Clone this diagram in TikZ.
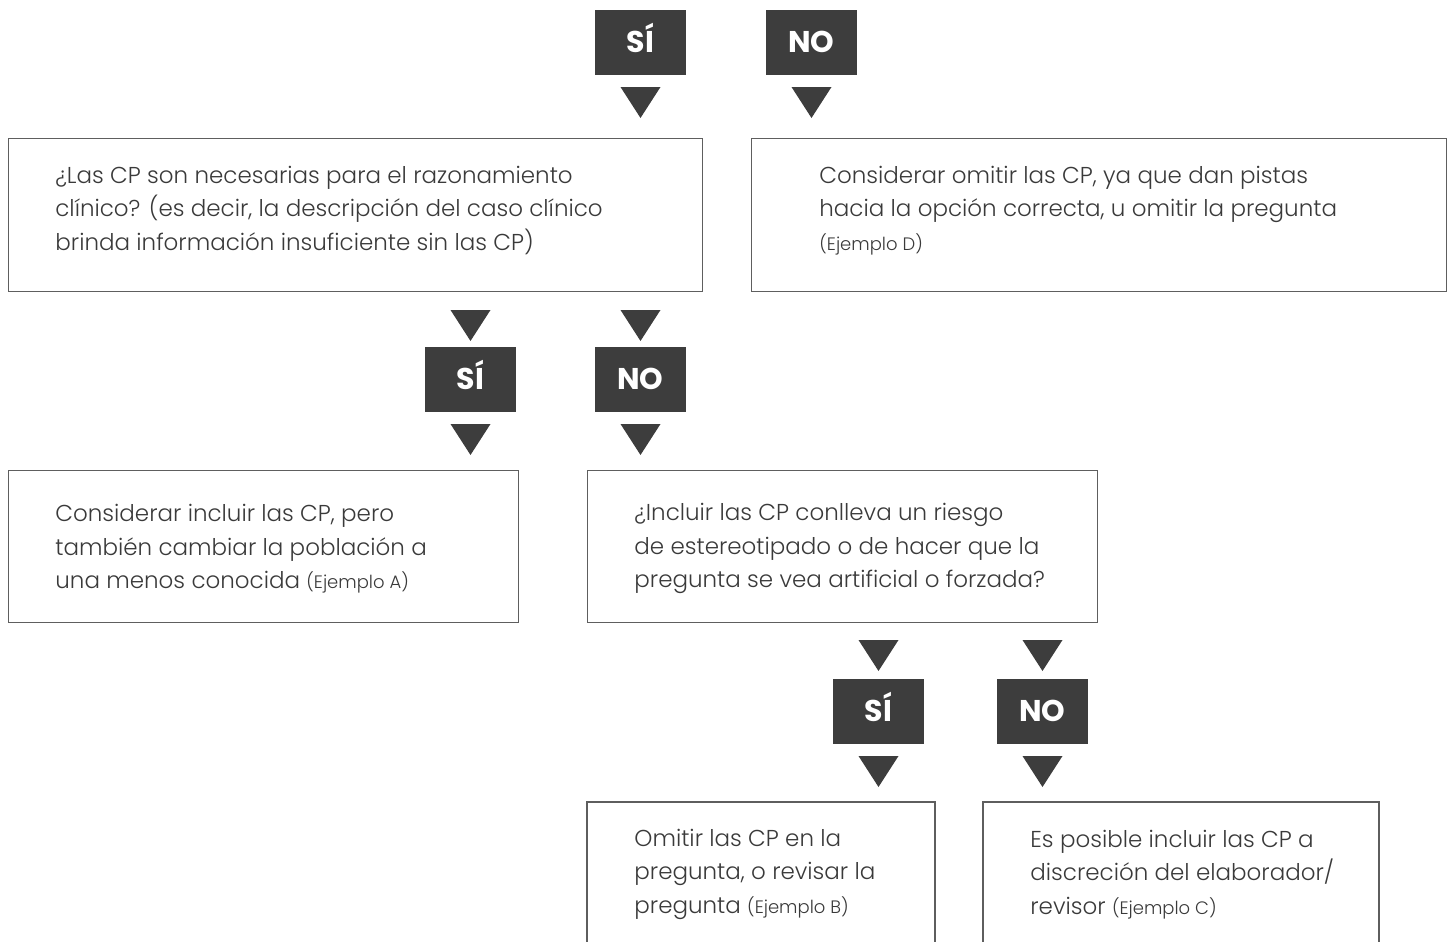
\documentclass[tikz,border=0pt]{standalone}
\usepackage{fontspec}
\IfFontExistsTF{Poppins Light}
  {\setmainfont{Poppins Light}[BoldFont={Poppins Bold}]}
  {\setmainfont{Poppins}}
\usetikzlibrary{positioning}
\definecolor{ink}{HTML}{3D3D3D}
\definecolor{textgray}{HTML}{3A3A3A}
\definecolor{framegray}{HTML}{5E5E5E}
% a filled triangle pointing down, given its centre x and its top y (in pixels)
\def\downtri(#1,#2){\fill[ink] ({#1-20},#2) -- ({#1+20},#2) -- (#1,{#2+31}) -- cycle;}
\newcommand{\ejemplo}[1]{{\fontsize{9}{10}\selectfont(Ejemplo #1)}}

\tikzset{
  answer/.style={fill=ink, text=white, font=\bfseries\fontsize{15}{18}\selectfont,
    minimum width=45.5pt, minimum height=32.5pt, inner sep=0pt,
    text height=10.5pt, text depth=0pt},
  frame/.style={draw=framegray, line width=0.7pt, anchor=north west, inner sep=0pt},
  body/.style={text=textgray, font=\fontsize{11.5}{16.75}\selectfont, align=left,
    inner sep=0pt, anchor=west, yshift=-1pt},
}

\begin{document}
\begin{tikzpicture}[x=0.5pt, y=-0.5pt]
  \useasboundingbox (0,0) rectangle (1448,942);

  % The first pair of answers, at the top, pointing into the first two boxes
  \node[answer] (si1) at (640.5,42.5) {SÍ};
  \node[answer] (no1) at (811.5,42.5) {NO};
  \downtri(640.5,87)
  \downtri(811.5,87)

  % The first question and the box reached by its NO
  \node[frame, minimum width=347pt, minimum height=76.5pt] (q1) at (8,138) {};
  \node[body, right=23.5pt of q1.west, yshift=3.5pt] (q1t) {¿Las CP son necesarias para el razonamiento\\
    clínico? (es decir, la descripción del caso clínico\\
    brinda información insuficiente sin las CP)};
  \node[frame, minimum width=347.5pt, minimum height=76.5pt] (d) at (751,138) {};
  \node[body, right=34pt of d.west, yshift=3.5pt] (dt) {Considerar omitir las CP, ya que dan pistas\\
    hacia la opción correcta, u omitir la pregunta\\
    \ejemplo{D}};

  % Answers to the first question
  \downtri(470.5,310)
  \downtri(640.5,310)
  \node[answer] (si2) at (470.5,379) {SÍ};
  \node[answer] (no2) at (640.5,379) {NO};
  \downtri(470.5,424)
  \downtri(640.5,424)

  % Box reached by SÍ, and the second question reached by NO
  \node[frame, minimum width=255pt, minimum height=76pt] (a) at (8,470) {};
  \node[body, right=23.5pt of a.west] (at) {Considerar incluir las CP, pero\\
    también cambiar la población a\\
    una menos conocida \ejemplo{A}};
  \node[frame, minimum width=255pt, minimum height=76pt] (q2) at (587,470) {};
  \node[body, right=23.5pt of q2.west] (q2t) {¿Incluir las CP conlleva un riesgo\\
    de estereotipado o de hacer que la\\
    pregunta se vea artificial o forzada?};

  % Answers to the second question
  \downtri(878.5,640)
  \downtri(1042.5,640)
  \node[answer] (si3) at (878.5,711) {SÍ};
  \node[answer] (no3) at (1042.5,711) {NO};
  \downtri(878.5,756)
  \downtri(1042.5,756)

  % The two last boxes run off the bottom of the page, so they have no bottom line
  \node[anchor=north west, minimum width=173.5pt, minimum height=70pt, inner sep=0pt] (b) at (587,802) {};
  \draw[framegray, line width=0.7pt] (b.south west) |- (b.north east) -- (b.south east);
  \node[body, right=23.5pt of b.west] (bt) {Omitir las CP en la\\
    pregunta, o revisar la\\
    pregunta \ejemplo{B}};
  \node[anchor=north west, minimum width=197.5pt, minimum height=70pt, inner sep=0pt] (c) at (983,802) {};
  \draw[framegray, line width=0.7pt] (c.south west) |- (c.north east) -- (c.south east);
  \node[body, right=23.5pt of c.west] (ct) {Es posible incluir las CP a\\
    discreción del elaborador/\\
    revisor \ejemplo{C}};
\end{tikzpicture}
\end{document}
